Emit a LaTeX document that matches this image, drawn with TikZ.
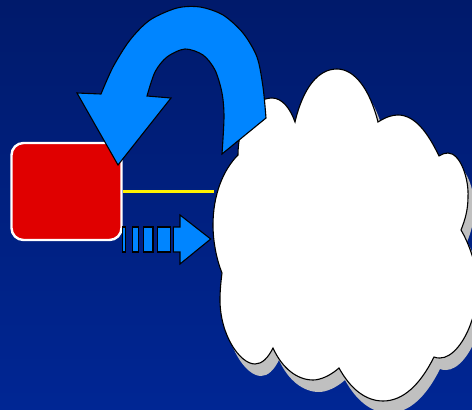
\documentclass[tikz,border=0pt]{standalone}
\usepackage{xcolor}
\usepackage{tikz}
\usetikzlibrary{calc}
\definecolor{bgtop}{RGB}{0,26,107}
\definecolor{bgbottom}{RGB}{0,38,148}
\definecolor{arrowblue}{RGB}{0,133,255}
\definecolor{boxred}{RGB}{224,0,0}
\definecolor{cloudgrey}{RGB}{192,192,192}
\def\cloudoutline{
  (295,122) .. controls (303,88) and (318,69) .. (337,69) .. controls (355,69) and (370,90) .. (378,122)
  .. controls (386,117) and (392,115) .. (398,115) .. controls (415,115) and (428,133) .. (439,156)
  .. controls (442,154) and (445,153) .. (448,153) .. controls (460,153) and (469,178) .. (468,197) .. controls (468,210) and (465,220) .. (461,230)
  .. controls (470,245) and (478,270) .. (478,288) .. controls (478,300) and (475,312) .. (472,320) .. controls (465,342) and (452,358) .. (440,358) .. controls (438,358) and (436,358) .. (434,357)
  .. controls (420,385) and (403,401) .. (383,401) .. controls (365,401) and (350,388) .. (339,368)
  .. controls (330,376) and (320,380) .. (313,380) .. controls (297,380) and (282,368) .. (273,348)
  .. controls (268,358) and (262,364) .. (255,364) .. controls (240,364) and (220,335) .. (220,300) .. controls (220,290) and (221,281) .. (222,273)
  .. controls (216,258) and (213,240) .. (213,225) .. controls (213,195) and (223,170) .. (238,155)
  .. controls (238,125) and (252,98) .. (272,98) .. controls (282,98) and (290,108) .. (295,122)
  -- cycle
}
\begin{document}
\begin{tikzpicture}[
  x=1pt,y=-1pt,
  redbox/.style={rectangle,rounded corners=12pt,draw=white,line width=2.4pt,fill=boxred,minimum width=110pt,minimum height=97pt,inner sep=0pt},
  blockarrow/.style={draw=black,line width=1.1pt,fill=arrowblue,line join=miter},
  stripe/.style={draw=black,line width=1.1pt,fill=arrowblue},
  cloudline/.style={draw=black,line width=1.1pt,fill=white},
  link/.style={draw=yellow,line width=3pt}
]
  \useasboundingbox (0,0) rectangle (472,410);
  \shade[top color=bgtop,bottom color=bgbottom] (0,0) rectangle (472,410);

  % cloud and its shadow
  \fill[cloudgrey,shift={(6pt,-12pt)}] \cloudoutline;
  \path[cloudline] \cloudoutline;

  \node[redbox] (box) at (66.5,191.5) {};
  \coordinate (cloudedge) at (214,191.5);
  \draw[link] (box.east) -- (cloudedge);

  % striped arrow
  \draw[stripe] (122.5,227) rectangle (125.7,252);
  \draw[stripe] (132.5,227) rectangle (138.7,252);
  \draw[stripe] (143.7,227) rectangle (153,252);
  \draw[stripe] (157.7,227) rectangle (170.3,252);
  \path[blockarrow] (173.3,227) -- (180,227) -- (180,215) -- (210.7,239) -- (180,264) -- (180,252) -- (173.3,252) -- cycle;

  % curved arrow
  \path[blockarrow] (266,118)
    -- plot[smooth] coordinates {(266,118) (263,87) (257,57) (243,33) (223,15) (200,7) (177,8) (150,20) (130,40) (113,67) (101,94)}
    -- (77,93) -- (118,165) -- (171,98) -- (147,96)
    -- plot[smooth] coordinates {(147,96) (155,72) (167,57) (185,49) (203,55) (215,70) (222,93) (224,117) (222,154)}
    -- cycle;
\end{tikzpicture}
\end{document}
